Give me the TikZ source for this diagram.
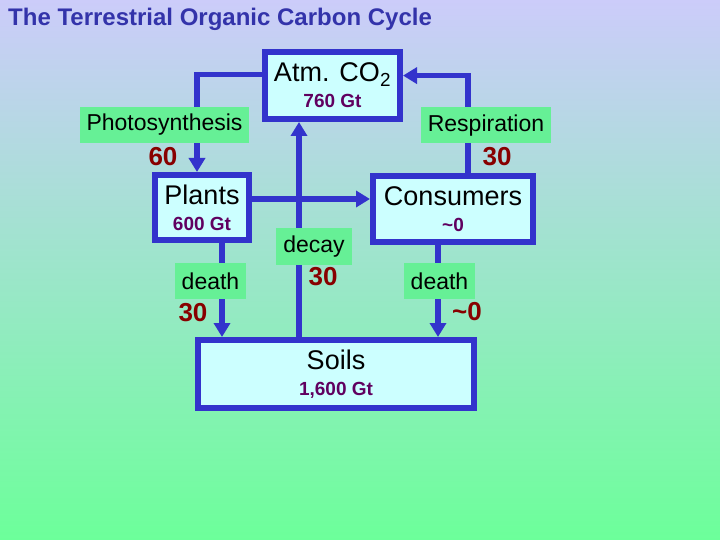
\documentclass[tikz,border=0pt]{standalone}
\usepackage{fontspec}
\setmainfont{Liberation Sans}
\usetikzlibrary{arrows.meta}

\definecolor{bgtop}{RGB}{204,204,250}
\definecolor{bgbot}{RGB}{108,255,154}
\definecolor{poolblue}{RGB}{51,51,204}
\definecolor{poolfill}{RGB}{204,255,255}
\definecolor{taggreen}{RGB}{102,240,150}
\definecolor{amtpurple}{RGB}{96,0,96}
\definecolor{ratered}{RGB}{136,0,0}
\definecolor{titleblue}{RGB}{51,51,170}

\newcommand{\amt}[1]{{\fontsize{19bp}{26bp}\selectfont\bfseries\color{amtpurple}#1}}

\begin{document}
\begin{tikzpicture}[x=1bp,y=-1bp,
  pool/.style={draw=poolblue,fill=poolfill,line width=6bp,align=center,
    font=\fontsize{27bp}{26bp}\selectfont},
  flux/.style={draw=poolblue,line width=5.5bp,-{Triangle[width=16bp,length=14bp]}},
  tag/.style={fill=taggreen,inner xsep=7bp,minimum height=36bp,
    font=\fontsize{23bp}{26bp}\selectfont},
  rate/.style={text=ratered,inner sep=0pt,font=\fontsize{26bp}{28bp}\selectfont\bfseries}]
  \shade[top color=bgtop,bottom color=bgbot] (0,0) rectangle (720,540);
  \useasboundingbox (0,0) rectangle (720,540);
  \node[anchor=base west,inner sep=0pt,text=titleblue,
    font=\fontsize{24bp}{26bp}\selectfont\bfseries] (title) at (8,26)
    {The Terrestrial Organic Carbon Cycle};
  % carbon pools
  \node[pool,minimum width=135bp,minimum height=67bp] (atm) at (332.5,85.5)
    {Atm. CO\textsubscript{2}\\\amt{760 Gt}};
  \node[pool,minimum width=94bp,minimum height=65bp] (plants) at (202,207.5)
    {Plants\\\amt{600 Gt}};
  \node[pool,minimum width=160bp,minimum height=66bp] (cons) at (453,209)
    {Consumers\\\amt{\textasciitilde0}};
  \node[pool,minimum width=276bp,minimum height=68bp] (soils) at (336,374)
    {Soils\\\amt{1,600 Gt}};
  % fluxes
  \draw[flux] (atm.171.5) -| ([xshift=-5bp]plants.north);
  \draw[flux] ([xshift=15bp]cons.north) |- (atm.8.5);
  \coordinate (pc) at ([yshift=8.5bp]plants.east);
  \draw[flux] (pc) -- (pc -| cons.west);
  \coordinate (dk) at ([xshift=-37bp]soils.north);
  \draw[flux] (dk) -- (dk |- atm.south);
  \coordinate (pd) at ([xshift=20bp]plants.south);
  \draw[flux] (pd) -- (pd |- soils.north);
  \coordinate (cd) at ([xshift=-15bp]cons.south);
  \draw[flux] (cd) -- (cd |- soils.north);
  % flux names and rates
  \node[tag] (tphoto) at (164.5,125) {Photosynthesis};
  \node[tag] (tresp) at (486,125.5) {Respiration};
  \node[tag] (tdecay) at (314,246.5) {decay};
  \node[tag] (tdeathp) at (210.5,281) {death};
  \node[tag] (tdeathc) at (439.5,281) {death};
  \node[rate] (rphoto) at (163,157) {60};
  \node[rate] (rresp) at (497,157) {30};
  \node[rate] (rdecay) at (323,277) {30};
  \node[rate] (rdeathp) at (193,313) {30};
  \node[rate] (rdeathc) at (467,312) {\textasciitilde0};
\end{tikzpicture}
\end{document}
